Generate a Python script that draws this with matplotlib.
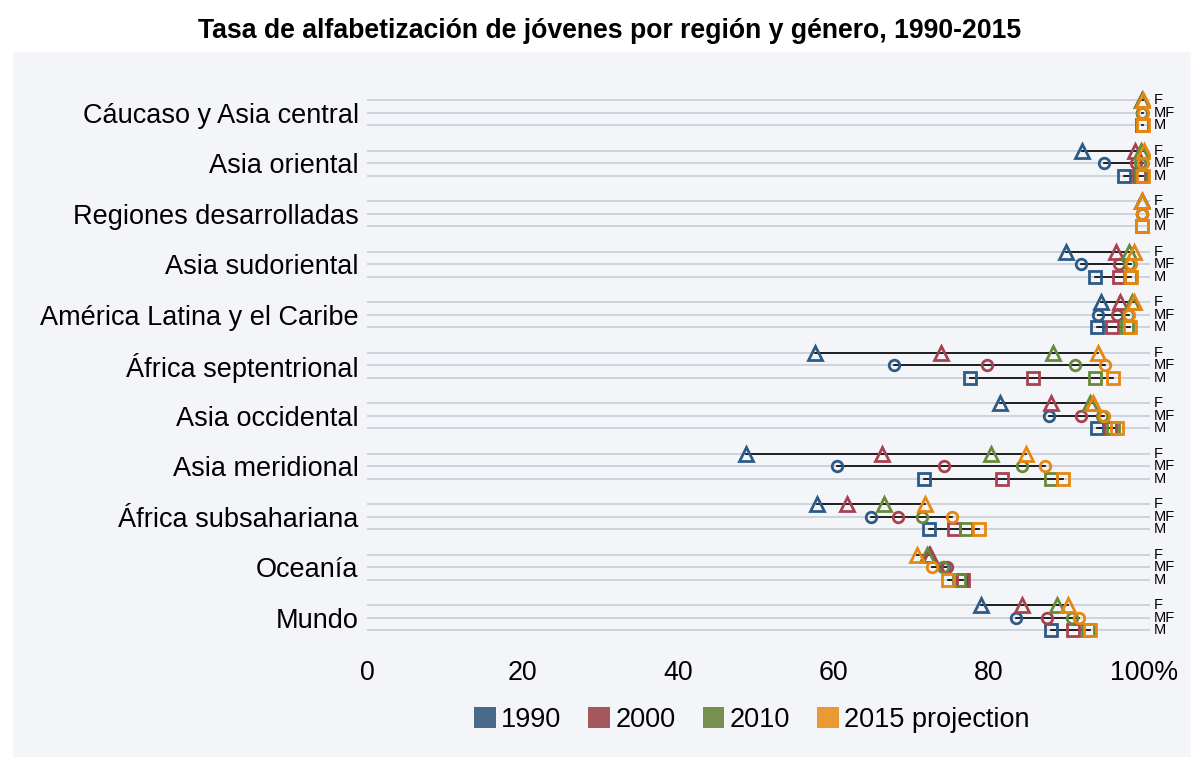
from matplotlib import pyplot as plt
from matplotlib.patches import Rectangle, Patch

plt.rcParams['font.family'] = ['Liberation Sans', 'DejaVu Sans']

regions = ['Cáucaso y Asia central', 'Asia oriental', 'Regiones desarrolladas',
           'Asia sudoriental', 'América Latina y el Caribe', 'África septentrional',
           'Asia occidental', 'Asia meridional', 'África subsahariana', 'Oceanía', 'Mundo']
years = ['1990', '2000', '2010', '2015 projection']
genders = ['F', 'MF', 'M']

# F rows
f_1990 = [99.8, 92.0, 99.7, 90.0, 94.5, 57.7, 81.5, 48.8, 57.9, 72.3, 79.0]
f_2000 = [99.8, 98.8, 99.7, 96.4, 96.9, 73.9, 88.0, 66.3, 61.8, 72.5, 84.3]
f_2010 = [99.8, 99.6, 99.7, 98.1, 98.5, 88.3, 93.0, 80.3, 66.5, 72.1, 88.8]
f_2015 = [99.9, 100.0, 99.8, 98.7, 98.7, 94.1, 93.4, 84.8, 71.8, 70.8, 90.2]
# MF rows
mf_1990 = [99.8, 94.8, 99.7, 91.9, 94.1, 67.8, 87.8, 60.5, 64.9, 74.3, 83.5]
mf_2000 = [99.8, 99.0, 99.7, 96.8, 96.5, 79.8, 91.9, 74.3, 68.3, 74.6, 87.5]
mf_2010 = [99.8, 99.5, 99.7, 98.1, 98.0, 91.1, 94.6, 84.3, 71.4, 74.1, 90.7]
mf_2015 = [99.9, 99.9, 99.8, 98.3, 98.1, 95.0, 94.9, 87.3, 75.3, 72.7, 91.6]
# M rows
m_1990 = [99.8, 97.4, 99.7, 93.7, 93.9, 77.6, 93.9, 71.7, 72.3, 76.5, 88.0]
m_2000 = [99.8, 99.3, 99.7, 96.8, 95.9, 85.7, 95.6, 81.7, 75.5, 76.7, 90.9]
m_2010 = [99.8, 99.6, 99.7, 98.2, 97.8, 93.7, 96.0, 88.0, 77.1, 76.2, 92.8]
m_2015 = [99.9, 99.9, 99.8, 98.3, 98.2, 96.0, 96.5, 89.6, 78.8, 74.8, 93.1]

data = {
    'F': [f_1990, f_2000, f_2010, f_2015],
    'MF': [mf_1990, mf_2000, mf_2010, mf_2015],
    'M': [m_1990, m_2000, m_2010, m_2015],
}

edge_colors = ['#2d5b88', '#a8424f', '#678a3a', '#e8870f']
legend_colors = ['#4a6a8a', '#a5575e', '#76904f', '#eb9933']
markers = {'F': '^', 'MF': 'o', 'M': 's'}
msizes = {'F': 9.8, 'MF': 7.6, 'M': 8.0}
panel = '#f4f5f9'

fig = plt.figure(figsize=(11.91, 7.57), dpi=100)
fig.patch.set_facecolor('white')
fig.patches.append(Rectangle((13 / 1191, 0), 1, 1 - 52 / 757, transform=fig.transFigure,
                             facecolor=panel, edgecolor='none', zorder=-10))

ax = fig.add_axes([367 / 1191, 1 - 643 / 757, (1150 - 367) / 1191, (643 - 87.4) / 757])
ax.set_facecolor(panel)
ax.set_xlim(0, (1150 - 367) / 7.77)
ax.set_ylim(43, -1)
for s in ax.spines.values():
    s.set_visible(False)

for i, reg in enumerate(regions):
    for j, g in enumerate(genders):
        y = i * 4 + j
        ax.axhline(y, color='#c9d1db', lw=1.3, zorder=1)
        vals = [data[g][k][i] for k in range(4)]
        ax.plot([min(vals), max(vals)], [y, y], color='black', lw=1.2, zorder=2)
        for k in range(4):
            ax.plot(vals[k], y, marker=markers[g], markersize=msizes[g], markerfacecolor='none',
                    markeredgecolor=edge_colors[k], markeredgewidth=2.0, zorder=3 + k)
        ax.text(101.3, y, g, fontsize=10.5, va='center', ha='left', clip_on=False)

ax.set_yticks([i * 4 + 1 for i in range(len(regions))])
ax.set_yticklabels(regions, fontsize=19.5)
ax.set_xticks([0, 20, 40, 60, 80, 100])
ax.set_xticklabels(['0', '20', '40', '60', '80', '100%'], fontsize=19.3)
ax.tick_params(length=0, pad=6)
ax.tick_params(axis='x', pad=12)

fig.text(0.512, 1 - 31 / 757, 'Tasa de alfabetización de jóvenes por región y género, 1990-2015',
         ha='center', va='center', fontsize=19.2, fontweight='bold')

handles = [Patch(facecolor=c, edgecolor='none') for c in legend_colors]
fig.legend(handles, years, loc='center', bbox_to_anchor=(752 / 1191, 1 - 720 / 757), ncol=4,
           frameon=False, fontsize=19.5, handlelength=0.8, handleheight=0.8, handletextpad=0.2,
           columnspacing=1.0)

plt.savefig('out.png', dpi=100, facecolor=fig.get_facecolor())
